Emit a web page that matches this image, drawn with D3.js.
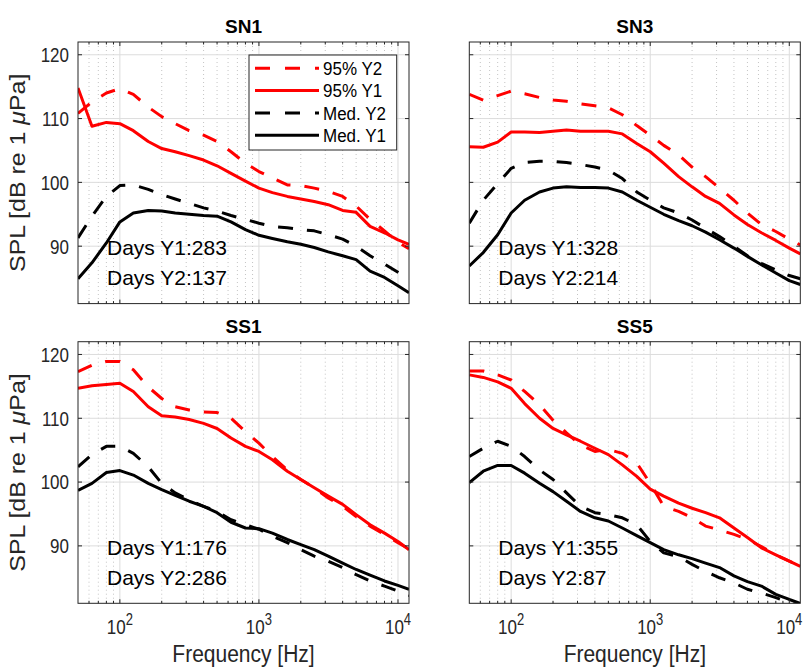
<!DOCTYPE html>
<html>
<head>
<meta charset="utf-8">
<script src="https://cdn.jsdelivr.net/npm/d3@7"></script>
<style>
  html, body { margin: 0; padding: 0; background: #fff; }
  svg { display: block; font-family: "Liberation Sans", Arial, Helvetica, sans-serif; }
</style>
</head>
<body>
<svg id="chart" width="803" height="667"></svg>
<script>
// Third-octave band centre frequencies (Hz)
const freqHz = [50, 63, 80, 100, 125, 160, 200, 250, 315, 400, 500, 630, 800,
  1000, 1250, 1600, 2000, 2500, 3150, 4000, 5000, 6300, 8000, 10000, 12000];

// SPL spectra, dB re 1 µPa
const sn1P95Y2 = [110.8, 112.6, 114.0, 114.7, 113.8, 111.8, 110.3, 109.2, 108.1, 107.4, 106.4, 104.8, 103.0, 101.7, 100.7, 99.6, 99.5, 99.1, 98.6, 97.8, 96.3, 94.2, 92.4, 90.6, 89.6];
const sn1P95Y1 = [114.8, 108.8, 109.4, 109.2, 108.1, 106.4, 105.3, 104.8, 104.2, 103.5, 102.6, 101.4, 100.2, 99.1, 98.4, 97.8, 97.4, 97.0, 96.5, 95.6, 95.3, 93.1, 92.1, 91.0, 90.3];
const sn1MedY2 = [91.3, 94.7, 97.8, 99.5, 99.6, 98.9, 98.1, 97.4, 96.7, 96.0, 95.5, 94.8, 94.2, 93.6, 93.1, 92.9, 92.6, 92.4, 91.8, 91.1, 90.0, 88.5, 87.2, 85.9, 84.8];
const sn1MedY1 = [84.9, 87.4, 90.5, 93.8, 95.2, 95.6, 95.5, 95.2, 95.0, 94.8, 94.7, 93.8, 92.6, 91.7, 91.2, 90.7, 90.3, 89.8, 89.1, 88.5, 87.9, 86.1, 85.1, 83.8, 82.7];

const sn3P95Y2 = [113.8, 112.9, 113.6, 114.3, 113.9, 113.3, 112.9, 112.7, 112.3, 112.0, 111.7, 110.6, 108.9, 107.4, 105.8, 104.3, 102.4, 100.9, 99.1, 97.2, 95.2, 93.4, 92.3, 91.1, 90.2];
const sn3P95Y1 = [105.6, 105.5, 106.3, 107.9, 107.9, 107.8, 108.0, 108.2, 108.0, 108.0, 108.0, 107.6, 106.1, 104.8, 103.0, 100.9, 99.3, 97.8, 96.7, 94.9, 93.4, 92.1, 90.9, 89.7, 88.8];
const sn3MedY2 = [93.6, 97.2, 99.8, 102.2, 103.1, 103.3, 103.3, 103.1, 102.8, 102.4, 101.9, 100.6, 98.5, 97.2, 96.0, 95.2, 94.1, 92.8, 91.5, 90.0, 88.5, 87.3, 86.3, 85.4, 84.9];
const sn3MedY1 = [86.9, 89.0, 91.8, 95.2, 97.2, 98.5, 99.1, 99.3, 99.2, 99.2, 99.1, 98.5, 97.2, 96.1, 95.0, 94.0, 93.2, 92.2, 91.0, 89.7, 88.4, 87.1, 85.8, 84.6, 84.0];

const ss1P95Y2 = [117.3, 118.3, 118.9, 118.9, 117.6, 114.9, 113.1, 111.8, 111.3, 111.0, 110.9, 110.0, 107.9, 106.1, 104.0, 101.9, 100.4, 99.1, 97.5, 96.2, 94.6, 93.1, 91.8, 90.5, 89.5];
const ss1P95Y1 = [114.7, 115.1, 115.3, 115.5, 114.2, 111.8, 110.4, 110.2, 109.8, 109.2, 108.4, 106.9, 105.6, 104.8, 103.5, 101.7, 100.4, 99.1, 97.8, 96.5, 94.9, 93.3, 92.0, 90.7, 89.4];
const ss1MedY2 = [102.4, 104.3, 105.6, 105.6, 104.5, 102.4, 99.8, 98.3, 97.2, 96.2, 95.4, 94.1, 93.3, 92.6, 91.5, 90.5, 89.4, 88.4, 87.6, 86.6, 85.5, 84.5, 83.7, 82.9, 82.2];
const ss1MedY1 = [98.7, 99.8, 101.5, 101.8, 101.1, 99.8, 98.8, 97.9, 97.0, 96.2, 95.2, 93.7, 92.8, 92.7, 92.0, 91.0, 90.2, 89.4, 88.4, 87.3, 86.3, 85.4, 84.5, 83.8, 83.2];

const ss5P95Y2 = [117.4, 117.4, 116.8, 116.0, 114.2, 112.1, 109.7, 107.7, 105.8, 104.8, 105.1, 104.5, 103.0, 99.8, 96.2, 95.4, 94.4, 93.1, 92.5, 91.8, 91.0, 89.9, 88.6, 87.6, 86.8];
const ss5P95Y1 = [116.8, 116.4, 115.7, 114.7, 112.3, 110.0, 108.4, 107.4, 106.4, 105.3, 104.3, 102.7, 100.9, 98.9, 97.8, 96.7, 95.9, 95.2, 94.4, 92.8, 91.3, 89.7, 88.6, 87.6, 86.8];
const ss5MedY2 = [104.0, 105.3, 106.4, 105.6, 104.0, 101.9, 100.4, 98.3, 96.2, 95.2, 94.9, 94.4, 93.3, 90.7, 88.9, 88.3, 87.1, 86.0, 85.0, 84.2, 83.2, 82.6, 81.9, 81.1, 80.6];
const ss5MedY1 = [99.9, 101.7, 102.6, 102.6, 101.4, 99.8, 98.5, 97.0, 95.4, 94.4, 93.9, 92.8, 91.6, 90.5, 89.4, 88.6, 88.0, 87.3, 86.6, 85.3, 84.4, 83.7, 82.4, 81.6, 81.0];

const siteNames = ["SN1", "SN3", "SS1", "SS5"];
const daysY1 = [283, 328, 176, 355];
const daysY2 = [137, 214, 286, 87];
const seriesNames = ["95% Y2", "95% Y1", "Med. Y2", "Med. Y1"];
const seriesColors = ["#ff0000", "#ff0000", "#000000", "#000000"];
const seriesDashed = [true, false, true, false];
const spectra = [
  [sn1P95Y2, sn1P95Y1, sn1MedY2, sn1MedY1],
  [sn3P95Y2, sn3P95Y1, sn3MedY2, sn3MedY1],
  [ss1P95Y2, ss1P95Y1, ss1MedY2, ss1MedY1],
  [ss5P95Y2, ss5P95Y1, ss5MedY2, ss5MedY1]
];
const yTicks = [90, 100, 110, 120];
const xMajorTicks = [100, 1000, 10000];
const xTickExp = ["2", "3", "4"];

const svg = d3.select("#chart");
const axColor = "#262626";

// panel boxes: left column / right column, top row / bottom row
const colX = [78, 469.3];
const rowY = [42, 341.7];
const pw = 331, ph = 261.6;

const xDomain = [50, 12000];
const yDomain = [81, 122];

// glyphs are drawn slightly taller than wide
const tall = 1.16;
const placeText = (sel, x, y, sy) => sel.attr("transform", `translate(${x},${y}) scale(1,${sy})`);

// minor ticks: 2..9 times each decade, inside the domain
const xMinor = [];
[10, 100, 1000].forEach(d => { for (let k = 2; k <= 9; k++) { const v = k * d; if (v > xDomain[0] && v < xDomain[1]) xMinor.push(v); } });

siteNames.forEach((name, i) => {
  const col = i % 2, row = Math.floor(i / 2);
  const x0 = colX[col], y0 = rowY[row];
  const x = d3.scaleLog().domain(xDomain).range([x0, x0 + pw]);
  const y = d3.scaleLinear().domain(yDomain).range([y0 + ph, y0]);
  const g = svg.append("g");

  g.append("rect").attr("x", x0).attr("y", y0).attr("width", pw).attr("height", ph).attr("fill", "#fff");

  // minor vertical grid (dotted)
  g.selectAll(".gminor").data(xMinor).enter().append("line")
    .attr("x1", d => x(d)).attr("x2", d => x(d))
    .attr("y1", y0).attr("y2", y0 + ph)
    .attr("stroke", "#c4c4c4").attr("stroke-width", 1)
    .attr("stroke-dasharray", "1,3");
  // major grid
  g.selectAll(".gxmaj").data(xMajorTicks).enter().append("line")
    .attr("x1", d => x(d)).attr("x2", d => x(d))
    .attr("y1", y0).attr("y2", y0 + ph)
    .attr("stroke", "#dcdcdc").attr("stroke-width", 1);
  g.selectAll(".gymaj").data(yTicks).enter().append("line")
    .attr("x1", x0).attr("x2", x0 + pw)
    .attr("y1", d => y(d)).attr("y2", d => y(d))
    .attr("stroke", "#dcdcdc").attr("stroke-width", 1);

  // data lines, clipped to the axes box
  const clipId = "clip" + i;
  svg.append("clipPath").attr("id", clipId)
    .append("rect").attr("x", x0).attr("y", y0).attr("width", pw).attr("height", ph);
  const line = d3.line().x((d, k) => x(freqHz[k])).y(d => y(d));
  const lg = g.append("g").attr("clip-path", `url(#${clipId})`);
  spectra[i].forEach((vals, s) => {
    lg.append("path").datum(vals)
      .attr("d", line)
      .attr("fill", "none")
      .attr("stroke", seriesColors[s])
      .attr("stroke-width", 3)
      .attr("stroke-linejoin", "round")
      .attr("stroke-dasharray", seriesDashed[s] ? "15,14" : null);
  });

  // axes box
  g.append("rect").attr("x", x0).attr("y", y0).attr("width", pw).attr("height", ph)
    .attr("fill", "none").attr("stroke", axColor).attr("stroke-width", 1);

  // inward ticks on all four sides
  const tk = g.append("g").attr("stroke", axColor).attr("stroke-width", 1);
  yTicks.forEach(v => {
    tk.append("line").attr("x1", x0).attr("x2", x0 + 4).attr("y1", y(v)).attr("y2", y(v));
    tk.append("line").attr("x1", x0 + pw - 4).attr("x2", x0 + pw).attr("y1", y(v)).attr("y2", y(v));
  });
  xMajorTicks.forEach(v => {
    tk.append("line").attr("x1", x(v)).attr("x2", x(v)).attr("y1", y0 + ph).attr("y2", y0 + ph - 4);
    tk.append("line").attr("x1", x(v)).attr("x2", x(v)).attr("y1", y0).attr("y2", y0 + 4);
  });
  xMinor.forEach(v => {
    tk.append("line").attr("x1", x(v)).attr("x2", x(v)).attr("y1", y0 + ph).attr("y2", y0 + ph - 2.5);
    tk.append("line").attr("x1", x(v)).attr("x2", x(v)).attr("y1", y0).attr("y2", y0 + 2.5);
  });

  // title
  g.append("text").attr("x", x0 + pw / 2).attr("y", y0 - 9)
    .attr("text-anchor", "middle").attr("font-size", 19).attr("font-weight", "bold")
    .attr("fill", "#000").text(name);

  // y tick labels and label (left column)
  if (col === 0) {
    yTicks.forEach(v => {
      const t = g.append("text").attr("dy", "0.36em")
        .attr("text-anchor", "end").attr("font-size", 17).attr("fill", axColor).text(v);
      placeText(t, x0 - 9, y(v), 1.2);
    });
    const yl = g.append("text")
      .attr("transform", `translate(${x0 - 53},${y0 + ph / 2}) rotate(-90) scale(${tall},1)`)
      .attr("text-anchor", "middle").attr("font-size", 21.5).attr("fill", axColor);
    yl.append("tspan").text("SPL [dB re 1 ");
    yl.append("tspan").attr("font-style", "italic").text("\u03bc");
    yl.append("tspan").text("Pa]");
  }

  // x tick labels and label (bottom row)
  if (row === 1) {
    xMajorTicks.forEach((v, k) => {
      const t = g.append("text")
        .attr("text-anchor", "middle").attr("font-size", 17).attr("fill", axColor);
      t.append("tspan").text("10");
      t.append("tspan").attr("dy", -8).attr("font-size", 13).text(xTickExp[k]);
      placeText(t, x(v), y0 + ph + 31, 1.2);
    });
    const xl = g.append("text")
      .attr("text-anchor", "middle").attr("font-size", 21).attr("fill", axColor)
      .text("Frequency [Hz]");
    placeText(xl, x0 + pw / 2, y0 + ph + 59, tall);
  }

  // recording-day annotations
  g.append("text").attr("x", x0 + 29).attr("y", y0 + 213)
    .attr("font-size", 21).attr("fill", "#000").text("Days Y1:" + daysY1[i]);
  g.append("text").attr("x", x0 + 29).attr("y", y0 + 243)
    .attr("font-size", 21).attr("fill", "#000").text("Days Y2:" + daysY2[i]);

  // legend (first panel only)
  if (i === 0) {
    const lx = 249, ly = 55, lw = 147.7, lh = 95;
    const leg = svg.append("g");
    leg.append("rect").attr("x", lx).attr("y", ly).attr("width", lw).attr("height", lh)
      .attr("fill", "#fff").attr("stroke", axColor).attr("stroke-width", 1);
    seriesNames.forEach((s, k) => {
      const ry = ly + 13.3 + k * 22.3;
      leg.append("line").attr("x1", lx + 6).attr("x2", lx + 70).attr("y1", ry).attr("y2", ry)
        .attr("stroke", seriesColors[k]).attr("stroke-width", 3)
        .attr("stroke-dasharray", seriesDashed[k] ? "15,15" : null);
      const t = leg.append("text").attr("dy", "0.36em")
        .attr("font-size", 17).attr("fill", "#000").text(s);
      placeText(t, lx + 74, ry, 1.12);
    });
  }
});
</script>
</body>
</html>
